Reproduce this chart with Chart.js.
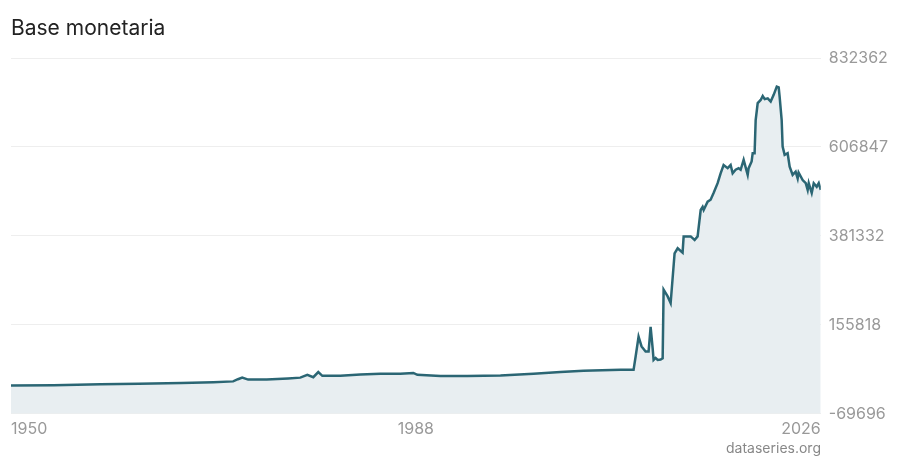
<!DOCTYPE html>
<html>
<head>
<meta charset="utf-8">
<script src="https://cdn.jsdelivr.net/npm/chart.js@4"></script>
<style>
  body { margin: 0; background: #fff; font-family: Inter, "Noto Sans", sans-serif; }
  #wrap { position: relative; width: 900px; height: 460px; }
  #title { position: absolute; left: 11px; top: 15px; font-size: 21px; color: #222; }
  #source { position: absolute; right: 79px; top: 439px; font-size: 14px; color: #888; }
</style>
</head>
<body>
<div id="wrap">
  <canvas id="chart" width="900" height="460"></canvas>
  <div id="title">Base monetaria</div>
  <div id="source">dataseries.org</div>
</div>
<script>
// values
const years = [1950, 1954, 1958.4, 1962, 1966, 1969, 1970.85, 1971.3, 1971.7, 1972.26, 1974, 1976,
  1977.15, 1977.81, 1978.37, 1978.84, 1979.22, 1980.91, 1982.79, 1984.66, 1986.54, 1987.76, 1988.14,
  1990.3, 1992.84, 1995.94, 1999.04, 2001.57, 2003.73, 2007.21, 2008.43, 2008.62, 2008.9, 2009.18,
  2009.56, 2009.84, 2010.03, 2010.22, 2010.31, 2010.5, 2010.69, 2010.97, 2011.16, 2011.25, 2011.63,
  2011.91, 2012.28, 2012.57, 2013.03, 2013.13, 2013.79, 2014.16, 2014.44, 2014.73, 2014.91, 2015.01,
  2015.38, 2015.66, 2015.94, 2016.32, 2016.6, 2016.88, 2017.26, 2017.54, 2017.73, 2018.01, 2018.29,
  2018.48, 2018.76, 2019.14, 2019.23, 2019.51, 2019.61, 2019.79, 2019.89, 2020.08, 2020.36, 2020.55,
  2020.74, 2021.02, 2021.3, 2021.58, 2021.87, 2022.05, 2022.14, 2022.33, 2022.42, 2022.61, 2022.89,
  2023.08, 2023.36, 2023.64, 2023.83, 2023.92, 2024.3, 2024.59, 2024.77, 2024.87, 2025.15, 2025.34,
  2025.62, 2025.81, 2026.0];
const values = [2000, 3000, 5000, 6500, 8500, 10500, 12500, 18000, 22000, 17000, 17500, 20000,
  22000, 29000, 23000, 36000, 26500, 26500, 30000, 31600, 31600, 34000, 29000,
  26000, 26000, 27300, 31600, 36000, 39200, 41800, 41800, 75000, 126000, 101000,
  88000, 88000, 151000, 97000, 67000, 72000, 67000, 68000, 71000, 245000, 228000,
  211000, 337000, 350000, 339000, 380000, 380000, 371000, 380000, 447000, 455000, 447000,
  468000, 473000, 490000, 515000, 540000, 561000, 553000, 561000, 540000, 549000, 553000,
  549000, 574000, 536000, 553000, 570000, 591000, 591000, 675000, 718000, 726000, 736000,
  728000, 730000, 722000, 739000, 760000, 758000, 734000, 675000, 608000, 587000, 591000,
  557000, 536000, 544000, 527000, 542000, 523000, 515000, 498000, 515000, 490000, 515000,
  506000, 515000, 498000];
const xTicks = [1950, 1988, 2026];
const yTicks = [-69696, 155818, 381332, 606847, 832362];

const points = years.map((yr, i) => ({ x: yr, y: values[i] }));

new Chart(document.getElementById('chart').getContext('2d'), {
  type: 'line',
  data: {
    datasets: [{
      data: points,
      borderColor: '#2b6674',
      borderWidth: 2.5,
      backgroundColor: '#e8eef1',
      fill: 'start',
      pointRadius: 0,
      tension: 0
    }]
  },
  options: {
    responsive: false,
    animation: false,
    layout: { padding: { left: 11, right: 4, top: 58, bottom: 23 } },
    plugins: { legend: { display: false }, tooltip: { enabled: false } },
    scales: {
      x: {
        type: 'linear',
        min: 1950,
        max: 2026,
        afterBuildTicks: axis => { axis.ticks = xTicks.map(v => ({ value: v })); },
        grid: { display: false },
        border: { display: false },
        ticks: {
          align: 'inner',
          maxRotation: 0,
          padding: -2,
          color: '#999',
          font: { family: 'Inter', size: 16 },
          callback: v => String(v)
        }
      },
      y: {
        position: 'right',
        min: -69696,
        max: 832362,
        afterBuildTicks: axis => { axis.ticks = yTicks.map(v => ({ value: v })); },
        grid: { color: '#eeeeee', drawTicks: false },
        border: { display: false },
        ticks: {
          padding: 8,
          color: '#999',
          font: { family: 'Inter', size: 16 },
          callback: v => String(v)
        }
      }
    }
  }
});
</script>
</body>
</html>
